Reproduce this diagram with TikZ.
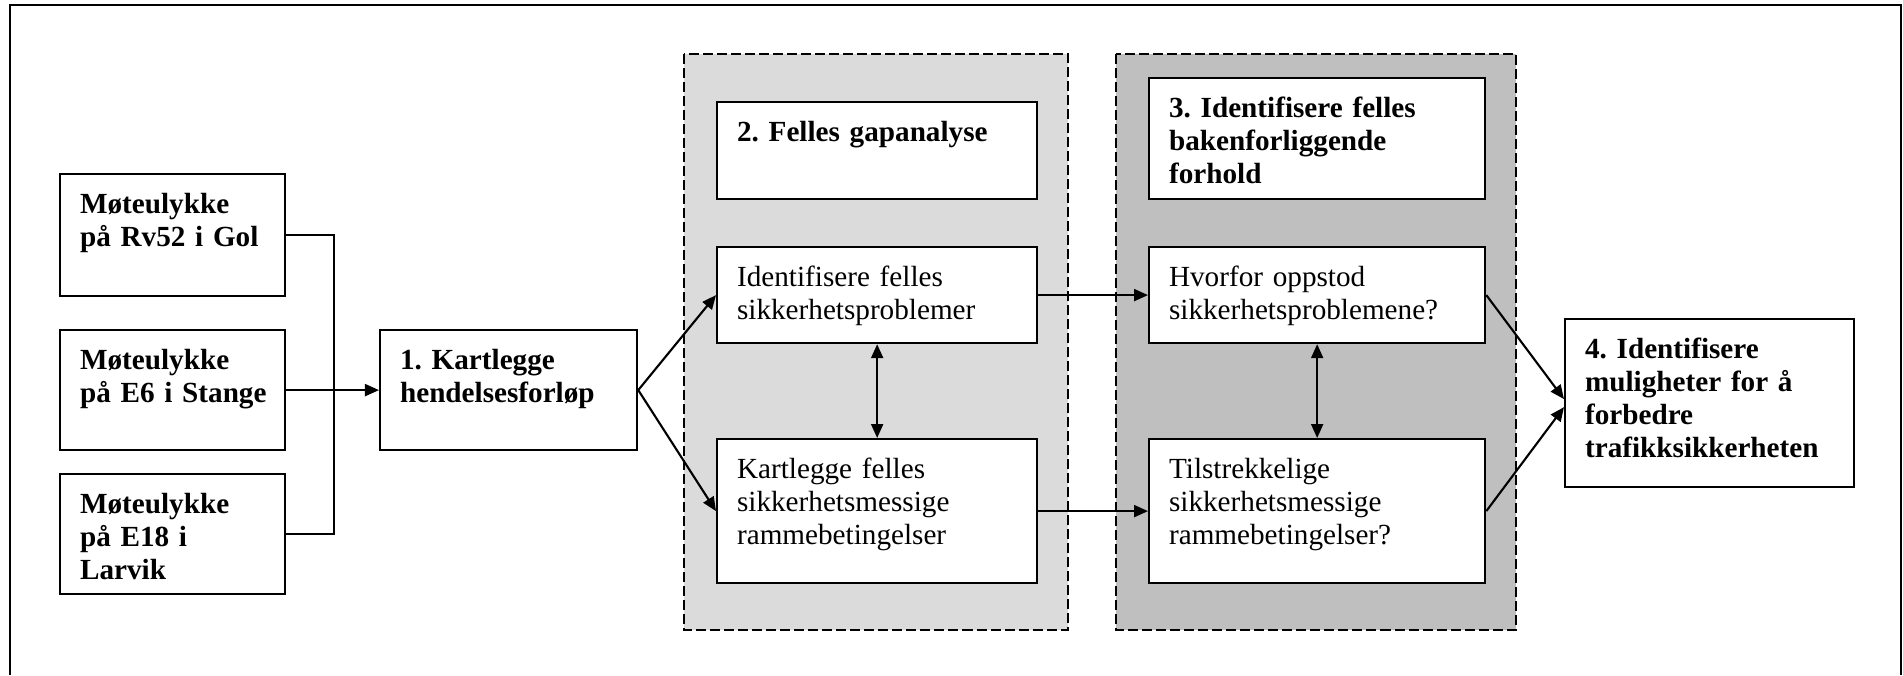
\documentclass[tikz,border=0pt]{standalone}
\usepackage{fontspec}
\setmainfont{Liberation Serif}
\usetikzlibrary{arrows.meta}
\frenchspacing

\definecolor{zonelight}{gray}{0.86}
\definecolor{zonedark}{gray}{0.75}

\tikzset{
  stepbox/.style={draw, fill=white, line width=0.6pt, anchor=north west, align=left,
    inner xsep=0.2cm, inner ysep=0.2cm, text height=0.19cm,
    font=\fontsize{8.3}{9.4}\selectfont},
  title/.style={stepbox, font=\fontsize{8.3}{9.4}\selectfont\bfseries},
  dims/.style 2 args={text width=#1, text depth=#2},
  stage/.style={draw, line width=0.6pt, dash pattern=on 0.1cm off 0.04cm},
}

\begin{document}
\begin{tikzpicture}[x=0.01cm, y=-0.01cm, >={Triangle[length=0.14cm,width=0.12cm]}]
\useasboundingbox (0,0) rectangle (1903,675);
\draw[line width=0.8pt] (10,675) |- (1901,5) -- (1901,675);
% the two dashed stages
\draw[stage, fill=zonelight] (684,54) rectangle (1068,630);
\draw[stage, fill=zonedark] (1116,54) rectangle (1516,630);

\node[title, dims={1.85cm}{0.63cm}] (rv) at (59,173) {Møteulykke\\på Rv52 i Gol};
\node[title, dims={1.85cm}{0.61cm}] (stange) at (59,329) {Møteulykke\\\mbox{på E6 i Stange}};
\node[title, dims={1.85cm}{0.61cm}] (larvik) at (59,473) {Møteulykke\\på E18 i\\Larvik};
\node[title, dims={2.17cm}{0.61cm}] (kartlegg) at (379,329) {1. Kartlegge\\hendelsesforløp};

\node[title, dims={2.80cm}{0.38cm}] (gap) at (716,101) {2. Felles gapanalyse};
\node[stepbox, dims={2.80cm}{0.37cm}] (probl) at (716,246) {Identifisere felles\\sikkerhetsproblemer};
\node[stepbox, dims={2.80cm}{0.85cm}] (ramme) at (716,438) {Kartlegge felles\\sikkerhetsmessige\\rammebetingelser};

\node[title, dims={2.96cm}{0.62cm}] (bakgr) at (1148,77) {3. Identifisere felles\\bakenforliggende\\forhold};
\node[stepbox, dims={2.96cm}{0.37cm}] (hvorfor) at (1148,246) {Hvorfor oppstod\\sikkerhetsproblemene?};
\node[stepbox, dims={2.96cm}{0.85cm}] (tilstr) at (1148,438) {Tilstrekkelige\\sikkerhetsmessige\\rammebetingelser?};

\node[title, dims={2.49cm}{1.09cm}] (mulig) at (1564,318) {4. Identifisere\\muligheter for å\\forbedre\\trafikksikkerheten};

% connectors
\draw[semithick] (rv.east) -- ++(48,0) |- (larvik.east);
\draw[semithick, ->] (stange.east) -- (kartlegg.west);
\draw[semithick, ->] (kartlegg.east) -- (probl.west);
\draw[semithick, ->] (kartlegg.east) -- (ramme.west);
\draw[semithick, <->] (probl.south) -- (ramme.north);
\draw[semithick, <->] (hvorfor.south) -- (tilstr.north);
\draw[semithick, ->] (probl.east) -- (hvorfor.west);
\draw[semithick, ->] (ramme.east) -- (tilstr.west);
\draw[semithick, ->] (hvorfor.east) -- ([yshift=0.04cm]mulig.west);
\draw[semithick, ->] (tilstr.east) -- ([yshift=-0.04cm]mulig.west);
\end{tikzpicture}
\end{document}
